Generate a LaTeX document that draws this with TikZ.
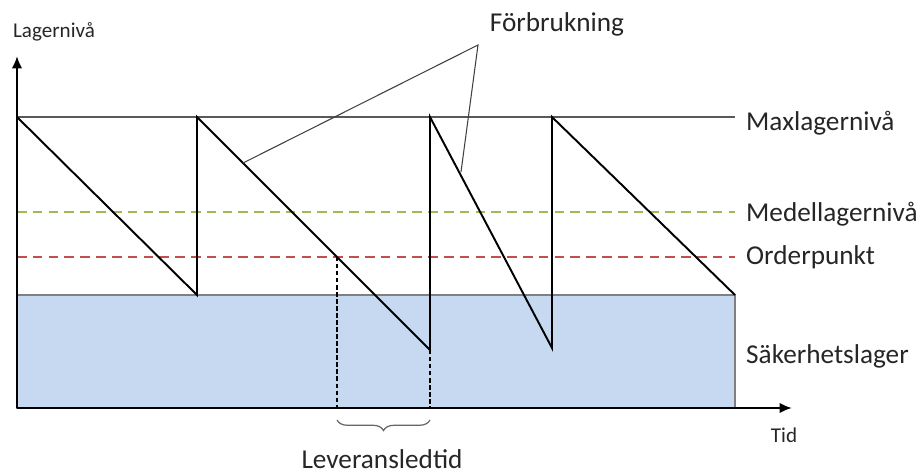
\documentclass[tikz,border=0pt]{standalone}
\usepackage{fontspec}
\setmainfont{Carlito}
\usetikzlibrary{arrows.meta,decorations.pathreplacing}

\definecolor{safefill}{HTML}{C6D9F1}
\definecolor{avggreen}{HTML}{9BBB59}
\definecolor{ordred}{HTML}{C0504D}

\tikzset{
  axisline/.style={line width=1.7pt,-{Latex[length=7pt,width=6pt]}},
  sawline/.style={line width=1.1pt,black},
  levelline/.style={line width=1.1pt,dash pattern=on 5.5pt off 3.5pt},
  biglabel/.style={anchor=west,font=\fontsize{15.5}{18}\selectfont,text=black!85},
  smalllabel/.style={font=\fontsize{12}{14}\selectfont,text=black!85},
}

\begin{document}
\begin{tikzpicture}[x=0.02cm,y=-0.02cm]
   \useasboundingbox (0,0) rectangle (920,473);
   % safety stock
   \fill[safefill,draw=gray,line width=0.6pt] (17,295) rectangle (735,408);
   % levels
   \draw[gray!70!black,line width=0.6pt] (17,117) -- (735,117);
   \draw[levelline,avggreen] (17,212) -- (735,212);
   \draw[levelline,ordred] (17,257) -- (735,257);
   % sawtooth points
   \coordinate (t0) at (17,117);
   \coordinate (b1) at (197,295);
   \coordinate (t1) at (197,117);
   \coordinate (b2) at (430,350);
   \coordinate (t2) at (430,117);
   \coordinate (b3) at (552,348);
   \coordinate (t3) at (552,117);
   \coordinate (b4) at (735,295);
   \draw[sawline] (t0) -- (b1) -- (t1) -- (b2) -- (t2) -- (b3) -- (t3) -- (b4);
   % lead time
   \coordinate (op) at (337,257);
   \coordinate (opaxis) at (337,408);
   \coordinate (b2axis) at (430,408);
   \draw[line width=1pt,dash pattern=on 2.5pt off 1.5pt] (op) -- (opaxis);
   \draw[line width=1pt,dash pattern=on 2.5pt off 1.5pt] (b2) -- (b2axis);
   \draw[gray!80!black,line width=0.7pt,decorate,decoration={brace,mirror,amplitude=6pt}]
      (337,420) -- (430,420) coordinate[midway] (lead);
   % axes
   \coordinate (origin) at (17,408);
   \coordinate (ytop) at (17,56);
   \coordinate (xend) at (792,408);
   \draw[axisline] (origin) -- (ytop);
   \draw[axisline] (origin) -- (xend);
   % labels
   \node[smalllabel] (ylabel) at (54,32) {Lagernivå};
   \node[smalllabel] (xlabel) at (784,435) {Tid};
   \node[biglabel] (maxlbl) at (740,123) {Maxlagernivå};
   \node[biglabel] (avglbl) at (740,214) {Medellagernivå};
   \node[biglabel] (ordlbl) at (740,257) {Orderpunkt};
   \node[biglabel] (safelbl) at (740,356) {Säkerhetslager};
   \node[biglabel,anchor=center,inner sep=0pt] (leadlbl) at (382,459) {Leveransledtid};
   \node[biglabel,anchor=center] (uselbl) at (557,24) {Förbrukning};
   % callout
   \coordinate (usetip) at (478,45);
   \coordinate (use1) at (243,163);
   \coordinate (use2) at (461,172);
   \draw[gray!50!black,line width=0.6pt] (use1) -- (usetip) -- (use2);
\end{tikzpicture}
\end{document}
